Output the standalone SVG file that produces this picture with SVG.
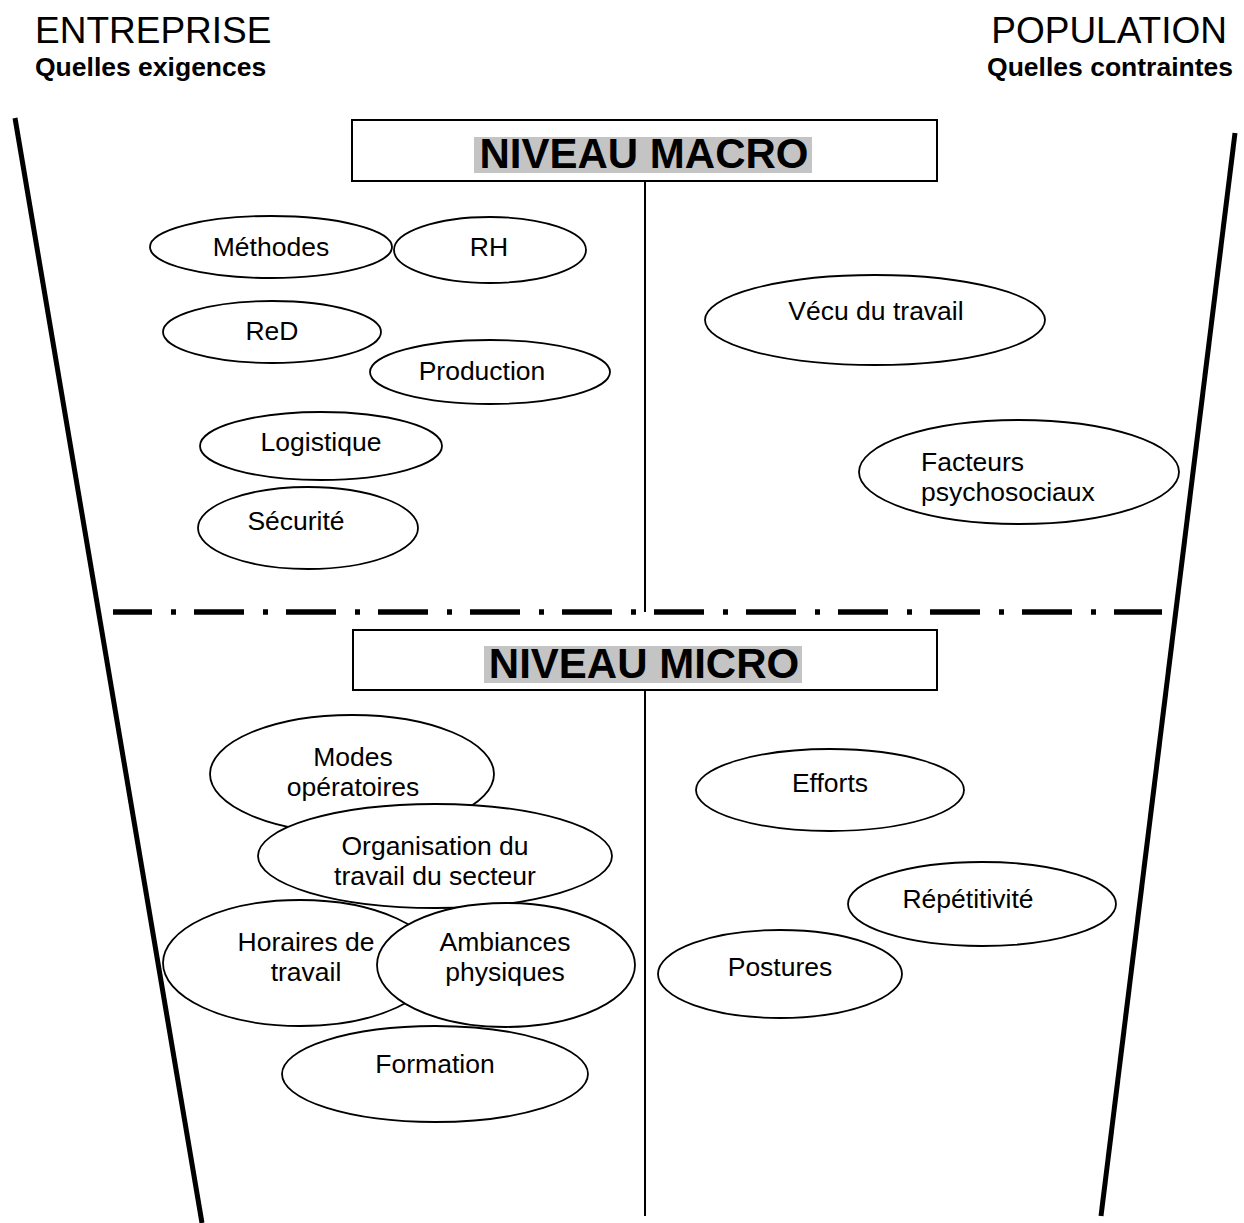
<svg xmlns="http://www.w3.org/2000/svg" width="1244" height="1223" viewBox="0 0 1244 1223">
<style>
.bg{fill:#ffffff}
.node ellipse{fill:#ffffff;stroke:#000000;stroke-width:1.8}
.lbl{font-family:"Liberation Sans",Arial,sans-serif;font-size:26.5px;fill:#000000;text-anchor:middle}
.lbl.left{text-anchor:start}
.head{font-family:"Liberation Sans",Arial,sans-serif;font-size:37px;fill:#000000}
.sub{font-family:"Liberation Sans",Arial,sans-serif;font-size:26.5px;font-weight:bold;fill:#000000}
.box{fill:#ffffff;stroke:#000000;stroke-width:2}
.hl{fill:#c4c4c4}
.title{font-family:"Liberation Sans",Arial,sans-serif;font-size:42px;font-weight:bold;fill:#000000;text-anchor:middle}
.side{stroke:#000000;stroke-width:5;fill:none}
.mid{stroke:#000000;stroke-width:2;fill:none}
.dd{stroke:#000000;stroke-width:5.5;fill:none;stroke-dasharray:50 19 5 18;stroke-dashoffset:11}
</style>
<rect class="bg" x="0" y="0" width="1244" height="1223"/>

<g id="headers">
<text class="head" x="35" y="43">ENTREPRISE</text>
<text class="sub" x="35" y="76">Quelles exigences</text>
<text class="head" x="1227" y="43" text-anchor="end">POPULATION</text>
<text class="sub" x="1233" y="76" text-anchor="end">Quelles contraintes</text>
</g>

<g id="connectors">
<line class="side" x1="15" y1="118" x2="202" y2="1223"/>
<line class="side" x1="1235" y1="133" x2="1101" y2="1216"/>
<line class="mid" x1="645" y1="181" x2="645" y2="612"/>
<line class="mid" x1="645" y1="690" x2="645" y2="1216"/>
<line class="dd" x1="113" y1="612" x2="1162" y2="612"/>
</g>

<g id="niveau-macro">
<rect class="box" x="352" y="120" width="585" height="61"/>
<rect class="hl" x="474" y="137" width="338" height="36"/>
<text class="title" x="644" y="168">NIVEAU MACRO</text>
</g>

<g id="niveau-micro">
<rect class="box" x="353" y="630" width="584" height="60"/>
<rect class="hl" x="484" y="646" width="318" height="37"/>
<text class="title" x="644" y="678">NIVEAU MICRO</text>
</g>

<g id="methodes" class="node"><ellipse cx="271" cy="247" rx="121" ry="31"/><text class="lbl" x="271" y="256">Méthodes</text></g>
<g id="rh" class="node"><ellipse cx="490" cy="250" rx="96" ry="33"/><text class="lbl" x="489" y="256">RH</text></g>
<g id="red" class="node"><ellipse cx="272" cy="332" rx="109" ry="31"/><text class="lbl" x="272" y="340">ReD</text></g>
<g id="production" class="node"><ellipse cx="490" cy="372" rx="120" ry="32"/><text class="lbl" x="482" y="380">Production</text></g>
<g id="logistique" class="node"><ellipse cx="321" cy="446" rx="121" ry="34"/><text class="lbl" x="321" y="451">Logistique</text></g>
<g id="securite" class="node"><ellipse cx="308" cy="528" rx="110" ry="41"/><text class="lbl" x="296" y="530">Sécurité</text></g>
<g id="vecu" class="node"><ellipse cx="875" cy="320" rx="170" ry="45"/><text class="lbl" x="876" y="320">Vécu du travail</text></g>
<g id="facteurs" class="node"><ellipse cx="1019" cy="472" rx="160" ry="52"/><text class="lbl left" x="921" y="471">Facteurs</text><text class="lbl left" x="921" y="501">psychosociaux</text></g>

<g id="modes" class="node"><ellipse cx="352" cy="774" rx="142" ry="59"/><text class="lbl" x="353" y="766">Modes</text><text class="lbl" x="353" y="796">opératoires</text></g>
<g id="organisation" class="node"><ellipse cx="435" cy="856" rx="177" ry="52"/><text class="lbl" x="435" y="855">Organisation du</text><text class="lbl" x="435" y="885">travail du secteur</text></g>
<g id="horaires" class="node"><ellipse cx="300" cy="963" rx="137" ry="63"/><text class="lbl" x="306" y="951">Horaires de</text><text class="lbl" x="306" y="981">travail</text></g>
<g id="ambiances" class="node"><ellipse cx="506" cy="965" rx="129" ry="62"/><text class="lbl" x="505" y="951">Ambiances</text><text class="lbl" x="505" y="981">physiques</text></g>
<g id="formation" class="node"><ellipse cx="435" cy="1074" rx="153" ry="48"/><text class="lbl" x="435" y="1073">Formation</text></g>
<g id="efforts" class="node"><ellipse cx="830" cy="790" rx="134" ry="41"/><text class="lbl" x="830" y="792">Efforts</text></g>
<g id="repetitivite" class="node"><ellipse cx="982" cy="904" rx="134" ry="42"/><text class="lbl" x="968" y="908">Répétitivité</text></g>
<g id="postures" class="node"><ellipse cx="780" cy="974" rx="122" ry="44"/><text class="lbl" x="780" y="976">Postures</text></g>
</svg>
